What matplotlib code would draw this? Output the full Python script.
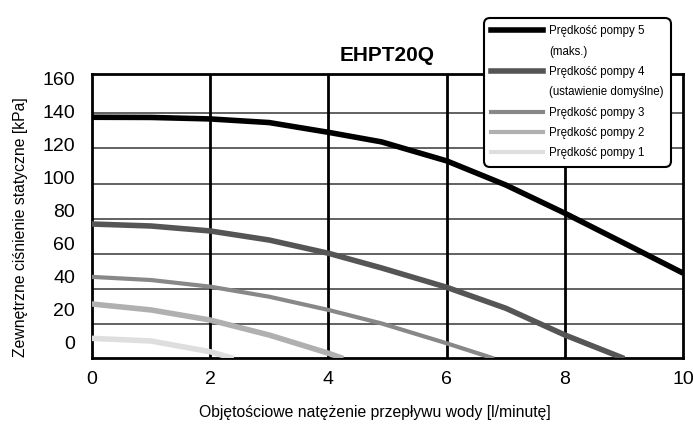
import matplotlib
matplotlib.use("Agg")
import matplotlib.pyplot as plt
from matplotlib.lines import Line2D

plt.rcParams['font.family'] = ['Liberation Sans', 'DejaVu Sans']

flow_5 = [0, 1, 2, 3, 4, 4.9, 6, 7, 8, 9, 10]
press_5 = [136.6, 136.5, 135.6, 133.4, 127.5, 121.7, 110.2, 95.6, 78.5, 60.4, 42.2]

flow_4 = [0, 1, 2, 3, 4, 4.9, 6, 7, 8, 9]
press_4 = [72.0, 70.8, 67.8, 62.3, 54.3, 45.4, 33.7, 21.0, 4.8, -9.4]

flow_3 = [0, 1, 2, 3, 4, 4.9, 6, 6.8]
press_3 = [40.0, 38.1, 34.1, 28.0, 20.0, 11.8, -0.2, -9.4]

flow_2 = [0, 1, 2, 3, 4, 4.25]
press_2 = [23.6, 20.0, 13.9, 4.8, -6.2, -9.4]

flow_1 = [0, 1, 2, 2.4]
press_1 = [2.8, 1.2, -5.3, -9.4]

labels = ['Prędkość pompy 5', 'Prędkość pompy 4', 'Prędkość pompy 3',
          'Prędkość pompy 2', 'Prędkość pompy 1']
y_ticks = [0, 20, 40, 60, 80, 100, 120, 140, 160]
x_ticks = [0, 2, 4, 6, 8, 10]
# poziome linie siatki nie leżą na etykietach osi
h_grid = [11.3, 32.7, 53.9, 75.1, 96.2, 117.9, 139.4]

series = [(flow_5, press_5, '#000000', 4.0),
          (flow_4, press_4, '#555555', 4.0),
          (flow_3, press_3, '#888888', 3.0),
          (flow_2, press_2, '#b0b0b0', 4.0),
          (flow_1, press_1, '#dedede', 4.0)]

fig = plt.figure(figsize=(6.93, 4.24), dpi=100)
ax = fig.add_axes([0.1323, 0.1545, 0.8537, 0.671])

for yv in h_grid:
    ax.axhline(yv, color='#555555', lw=1.3, zorder=1)
for xv in x_ticks[1:-1]:
    ax.axvline(xv, color='black', lw=2.0, zorder=1)

for fx, py, col, lw in series:
    ax.plot(fx, py, color=col, lw=lw, solid_capstyle='butt', zorder=3)

ax.set_xlim(0, 10)
ax.set_ylim(-9.4, 162.8)
ax.set_xticks(x_ticks)
ax.set_yticks(y_ticks)
ax.tick_params(axis='both', length=0, labelsize=14)
ax.tick_params(axis='y', pad=12)
ax.tick_params(axis='x', pad=9)
for s in ax.spines.values():
    s.set_linewidth(2.0)
    s.set_color('black')

ax.set_xlabel('Objętościowe natężenie przepływu wody [l/minutę]', fontsize=11.3)
ax.set_ylabel('Zewnętrzne ciśnienie statyczne [kPa]', fontsize=11.3)
ax.xaxis.set_label_coords(0.478, -0.162)
ax.yaxis.set_label_coords(-0.121, 0.462)
ax.yaxis.label.set_va('center')
ax.set_title('EHPT20Q', fontsize=15, fontweight='bold', pad=9)

handles = [Line2D([], [], color=series[0][2], lw=4),
           Line2D([], [], color='none'),
           Line2D([], [], color=series[1][2], lw=4),
           Line2D([], [], color='none'),
           Line2D([], [], color=series[2][2], lw=3),
           Line2D([], [], color=series[3][2], lw=3),
           Line2D([], [], color=series[4][2], lw=3)]
texts = [labels[0], '(maks.)', labels[1], '(ustawienie domyślne)',
         labels[2], labels[3], labels[4]]
leg = fig.legend(handles, texts, loc='upper left', bbox_to_anchor=(484 / 693, 1 - 18 / 424),
                 fontsize=8.3, frameon=True, fancybox=True, handlelength=4.5,
                 handletextpad=0.5, labelspacing=0.72, borderpad=0.65, borderaxespad=0)
leg.get_frame().set_edgecolor('black')
leg.get_frame().set_linewidth(1.5)
leg.get_frame().set_alpha(1)
leg.get_frame().set_boxstyle('round,pad=0,rounding_size=0.5')

fig.savefig('out.png', dpi=100)
